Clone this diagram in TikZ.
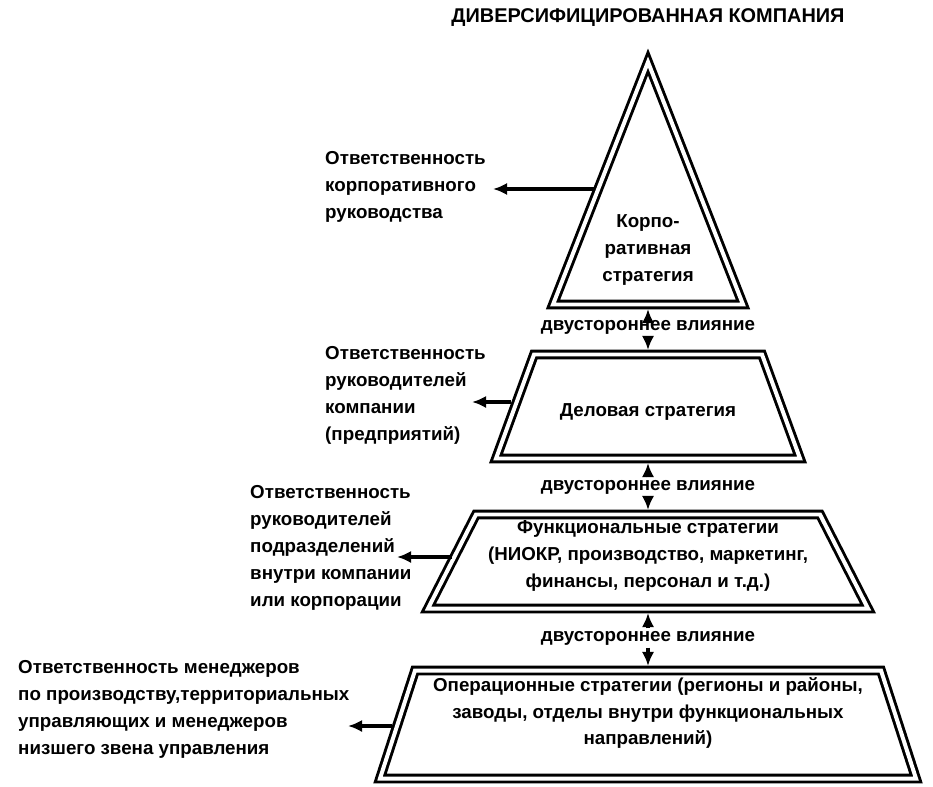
\documentclass[tikz,border=0pt]{standalone}
\usepackage{fontspec}
\setmainfont{Liberation Sans}
\usetikzlibrary{arrows.meta}
\begin{document}
\begin{tikzpicture}
      [
      x=0.03cm, y=-0.03cm,
      every node/.style={font=\bfseries\fontsize{16}{23}\selectfont},
      level/.style={draw,double,line width=2.5pt,double distance=3.4pt,line join=miter},
      body/.style={align=center,inner sep=0pt},
      duty/.style={align=left,anchor=west,inner sep=0pt},
      mutual/.style={inner sep=2pt},
      link/.style={-{Latex[length=12pt,width=10.5pt]},line width=2.6pt}
      ]
      \useasboundingbox (0,0) rectangle (933,786);
      \node (title) at (648,18) [font=\bfseries\fontsize{17}{23}\selectfont] {ДИВЕРСИФИЦИРОВАННАЯ КОМПАНИЯ};
      % pyramid levels
      \draw [level] (648,62) -- (743,304.5) -- (553,304.5) -- cycle;
      \draw [level] (534,354.5) -- (762,354.5) -- (800,458.5) -- (496,458.5) -- cycle;
      \draw [level] (476,514.5) -- (820,514.5) -- (868,608.5) -- (428,608.5) -- cycle;
      \draw [level] (415,670.5) -- (881,670.5) -- (916,778.5) -- (380,778.5) -- cycle;
      \node (corp) at (648,250) [body] {Корпо-\\ративная\\стратегия};
      \node (bus) at (648,412) [body] {Деловая стратегия};
      \node (func) at (648,556) [body] {Функциональные стратегии\\(НИОКР, производство, маркетинг,\\финансы, персонал и т.д.)};
      \node (oper) at (648,713) [body] {Операционные стратегии (регионы и районы,\\заводы, отделы внутри функциональных\\направлений)};
      % edges of the levels
      \coordinate (corpbot) at (648,309);
      \coordinate (bustop) at (648,350);
      \coordinate (busbot) at (648,463);
      \coordinate (functop) at (648,510);
      \coordinate (funcbot) at (648,613);
      \coordinate (opertop) at (648,666);
      % two-way influence
      \node (mut1) at (648,327) [mutual] {двустороннее влияние};
      \node (mut2) at (648,487) [mutual] {двустороннее влияние};
      \node (mut3) at (648,638) [mutual] {двустороннее влияние};
      \draw [link] (mut1) to (corpbot);
      \draw [link] (mut1) to (bustop);
      \draw [link] (mut2) to (busbot);
      \draw [link] (mut2) to (functop);
      \draw [link] (mut3) to (funcbot);
      \draw [link] (mut3) to (opertop);
      % responsibility
      \node (duty1) at (325,187) [duty] {Ответственность\\корпоративного\\руководства};
      \node (duty2) at (325,395) [duty] {Ответственность\\руководителей\\компании\\(предприятий)};
      \node (duty3) at (250,548) [duty] {Ответственность\\руководителей\\подразделений\\внутри компании\\или корпорации};
      \node (duty4) at (18,709) [duty] {Ответственность менеджеров\\по производству,территориальных\\управляющих и менеджеров\\низшего звена управления};
      \coordinate (from1) at (595,189);
      \coordinate (from2) at (511,402);
      \coordinate (from3) at (452,557);
      \coordinate (from4) at (392,726);
      \coordinate (tip1) at (493,189);
      \coordinate (tip2) at (472,402);
      \coordinate (tip3) at (397,557);
      \coordinate (tip4) at (348,726);
      \draw [link] (from1) to (tip1);
      \draw [link] (from2) to (tip2);
      \draw [link] (from3) to (tip3);
      \draw [link] (from4) to (tip4);
\end{tikzpicture}
\end{document}
